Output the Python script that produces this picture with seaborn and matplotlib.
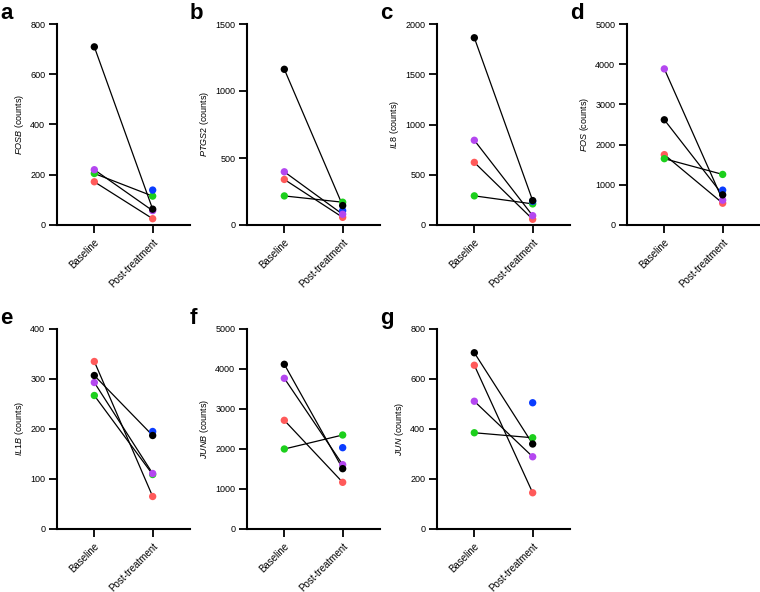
import numpy as np
import pandas as pd
import matplotlib
matplotlib.use("Agg")
import matplotlib.pyplot as plt
import seaborn as sns

# subjects (draw order: later ones on top)
subjects = ["red", "green", "blue", "purple", "black"]
subject_colors = {"red": "#FF5A5A", "green": "#1CCF1C", "blue": "#0A3CFF",
                  "purple": "#B447F0", "black": "#000000"}
timepoints = ["Baseline", "Post-treatment"]

genes = ["FOSB", "PTGS2", "IL8", "FOS", "IL1B", "JUNB", "JUN"]
panel_letters = ["a", "b", "c", "d", "e", "f", "g"]
y_max = [800, 1500, 2000, 5000, 400, 5000, 800]
y_step = [200, 500, 500, 1000, 100, 1000, 200]

# values per subject, order: red, green, blue, purple, black (NaN = not measured)
baseline = {
    "FOSB":  [172, 205, np.nan, 220, 709],
    "PTGS2": [340, 217, np.nan, 397, 1162],
    "IL8":   [623, 290, np.nan, 843, 1863],
    "FOS":   [1750, 1650, np.nan, 3883, 2617],
    "IL1B":  [335, 267, np.nan, 293, 307],
    "JUNB":  [2717, 2000, np.nan, 3767, 4117],
    "JUN":   [655, 385, np.nan, 511, 705],
}
post = {
    "FOSB":  [25, 115, 139, 57, 63],
    "PTGS2": [57, 170, 107, 80, 145],
    "IL8":   [57, 210, 235, 93, 243],
    "FOS":   [542, 1258, 867, 617, 750],
    "IL1B":  [65, 109, 195, 111, 187],
    "JUNB":  [1167, 2350, 2033, 1608, 1508],
    "JUN":   [145, 365, 505, 289, 340],
}

sns.set_style("ticks")
plt.rcParams["font.family"] = ["Liberation Sans", "DejaVu Sans"]
plt.rcParams["mathtext.fontset"] = "custom"
plt.rcParams["mathtext.it"] = "Liberation Sans:italic"
plt.rcParams["mathtext.rm"] = "Liberation Sans"
plt.rcParams["text.color"] = "black"
plt.rcParams["axes.labelcolor"] = "black"
plt.rcParams["xtick.color"] = "black"
plt.rcParams["ytick.color"] = "black"

fig = plt.figure(figsize=(7.6, 5.92), dpi=100)

W, H = 760, 592
lefts = [57, 247, 437, 627, 57, 247, 437]
tops = [24, 24, 24, 24, 329, 329, 329]
bottoms = [225, 225, 225, 225, 529, 529, 529]
ax_w = 133

for i, gene in enumerate(genes):
    ax = fig.add_axes([lefts[i] / W, 1 - bottoms[i] / H, ax_w / W,
                       (bottoms[i] - tops[i]) / H])
    rows = []
    for j, s in enumerate(subjects):
        rows.append({"subject": s, "time": timepoints[0], "value": baseline[gene][j]})
        rows.append({"subject": s, "time": timepoints[1], "value": post[gene][j]})
    df = pd.DataFrame(rows).dropna()
    df["time"] = pd.Categorical(df["time"], categories=timepoints)

    paired = df.groupby("subject").filter(lambda g: len(g) == 2)
    sns.lineplot(data=paired, x="time", y="value", units="subject",
                 estimator=None, color="black", lw=0.9, ax=ax, zorder=2)
    sns.stripplot(data=df, x="time", y="value", hue="subject",
                  hue_order=subjects, palette=subject_colors, jitter=False,
                  size=5.3, linewidth=0, ax=ax, legend=False, zorder=3)
    for coll in ax.collections:
        coll.set_clip_on(False)

    ax.set_xlim(-0.64, 1.64)
    ax.set_ylim(0, y_max[i])
    ax.set_yticks(np.arange(0, y_max[i] + 1, y_step[i]))
    ax.set_xticks([0, 1])
    ax.set_xticklabels(timepoints, rotation=45, ha="right",
                       rotation_mode="anchor")
    ax.set_xlabel("")
    ax.set_ylabel(r"$\mathit{" + gene + "}$ (counts)", fontsize=6.5, labelpad=3)
    ax.tick_params(axis="y", labelsize=6.5)
    ax.tick_params(axis="x", labelsize=7)
    ax.tick_params(axis="both", width=1.3, length=5.5, pad=3)
    for side in ["left", "bottom"]:
        ax.spines[side].set_linewidth(1.5)
        ax.spines[side].set_color("black")
    sns.despine(ax=ax)

    fig.text((lefts[i] - 57) / W, 1 - (tops[i] - 21) / H, panel_letters[i],
             fontsize=16, fontweight="bold", va="top", ha="left")

fig.savefig("out.png", dpi=100)
